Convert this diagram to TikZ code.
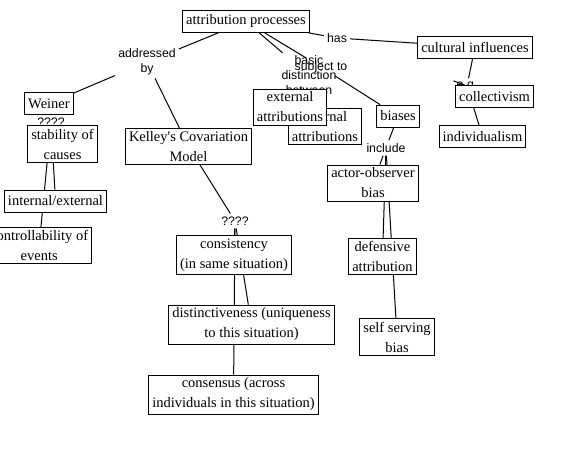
\documentclass[tikz,border=0pt]{standalone}
\usepackage{fontspec}
\setmainfont{Liberation Serif}
\newfontfamily\linkfont{Liberation Sans}
\usetikzlibrary{backgrounds}

\begin{document}
\begin{tikzpicture}[x=1pt,y=-1pt,
  concept/.style={draw,line width=0.8pt,fill=white,align=center,inner xsep=3.5pt,inner ysep=3pt,
    minimum height=22pt,font=\fontsize{14.5}{20}\selectfont},
  phrase/.style={align=center,inner sep=3pt,font=\linkfont\fontsize{12.3}{15}\selectfont},
  link/.style={line width=1pt}]
  \useasboundingbox (0,0) rectangle (574,456);
  % linking phrases
  \node[phrase] (addr) at (147,62) {addressed\\by};
  \node[phrase] (has) at (337,38) {has};
  \node[phrase] (basic) at (309,75.5) {basic\\distinction\\between};
  \node[phrase] (subj) at (321,67) {subject to};
  \node[phrase] (eg) at (467,86) {e.g.};
  \node[phrase] (incl) at (386,148) {include};
  \node[phrase] (qw) at (51,122) {????};
  \node[phrase] (qk) at (235,221) {????};
  % concepts
  \node[concept] (ap) at (246,21.5) {attribution processes};
  \node[concept] (cult) at (475,47) {cultural influences};
  \node[concept] (coll) at (494.5,96.5) {collectivism};
  \node[concept] (indiv) at (482.5,136.5) {individualism};
  \node[concept] (int) at (325,126.5) {internal\\attributions};
  \node[concept] (ext) at (290,107) {external\\attributions};
  \node[concept] (bias) at (398,116) {biases};
  \node[concept] (aob) at (373,183) {actor-observer\\bias};
  \node[concept] (def) at (382.5,256.5) {defensive\\attribution};
  \node[concept] (self) at (397,337) {self serving\\bias};
  \node[concept] (weiner) at (49,103.5) {Weiner};
  \node[concept] (stab) at (62.5,144) {stability of\\causes};
  \node[concept] (inex) at (55.5,201) {internal/external};
  \node[concept,anchor=east] (ctrl) at (92,245.5) {controllability of\\events};
  \node[concept] (kelley) at (188.5,146.5) {Kelley\textquotesingle s Covariation\\Model};
  \node[concept] (cons) at (234,255) {consistency\\(in same situation)};
  \node[concept] (dist) at (251.5,324.5) {distinctiveness (uniqueness\\to this situation)};
  \node[concept] (agree) at (233.5,394.5) {consensus (across\\individuals in this situation)};
  \begin{scope}[on background layer]
    \foreach \a/\b in {ap/addr, ap/has, ap/basic, ap/subj, has/cult, cult/eg, eg/coll, eg/indiv,
      basic/ext, basic/int, subj/bias, bias/incl, incl/aob, incl/def, incl/self,
      addr/weiner, addr/kelley, weiner/qw, qw/stab, qw/inex, qw/ctrl,
      kelley/qk, qk/cons, qk/dist, qk/agree}
      \draw[link] (\a) -- (\b);
  \end{scope}
\end{tikzpicture}
\end{document}
